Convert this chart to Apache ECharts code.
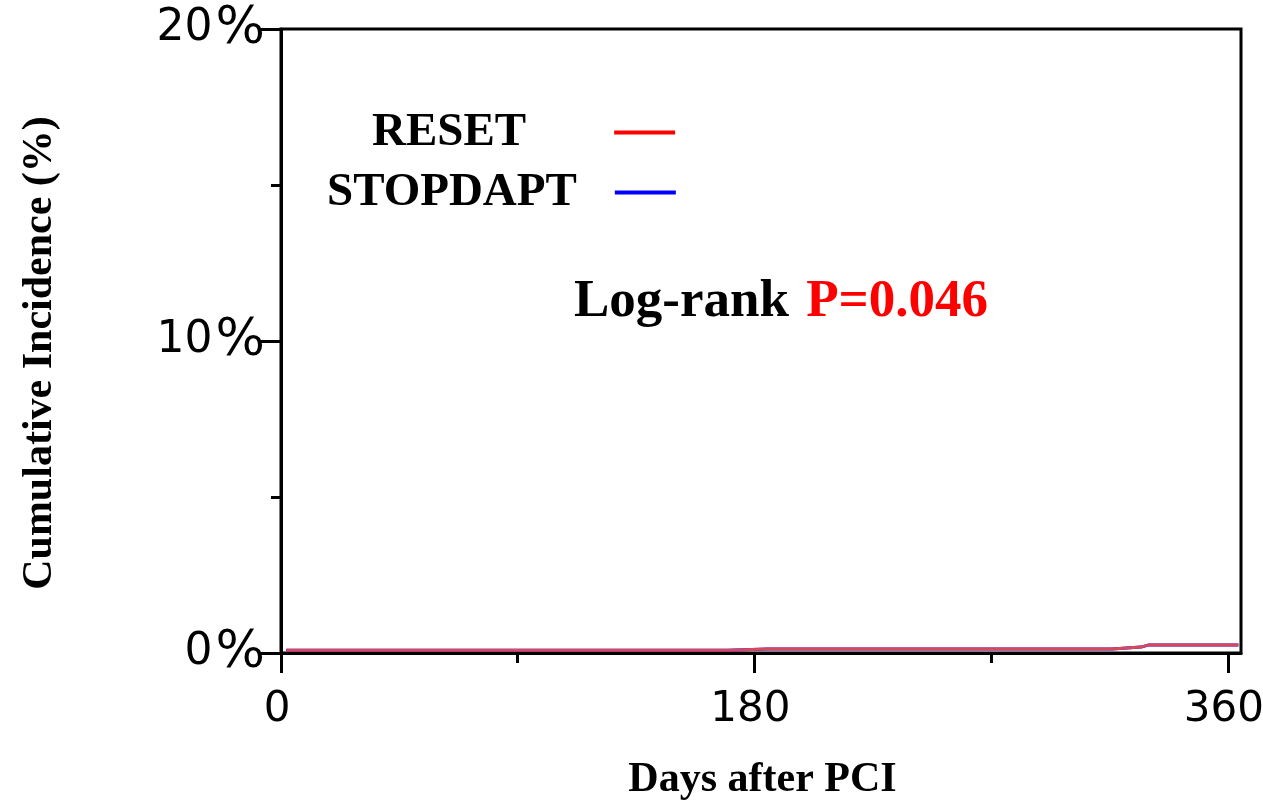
<!DOCTYPE html>
<html lang="en">
<head>
    <meta charset="UTF-8">
    <title>Cumulative Incidence</title>
    <script type="text/javascript" src="https://cdn.jsdelivr.net/npm/echarts@6/dist/echarts.min.js"></script>
    <style>
        html, body { margin: 0; padding: 0; background: #fff; overflow: hidden; }
    </style>
</head>
<body>
    <div id="main" style="width: 1263px; height: 802px;"></div>
    <script type="text/javascript">
        // days after PCI / cumulative incidence (%)
        var resetDays = [2, 170, 185, 316, 316.5, 327, 330, 364];
        var resetPct = [0.09, 0.09, 0.13, 0.13, 0.19, 0.19, 0.26, 0.26];
        // STOPDAPT curve is hidden under the RESET curve in the picture
        var stopDays = [2, 170, 185, 316, 316.5, 327, 330, 364];
        var stopPct = [0.09, 0.09, 0.13, 0.13, 0.19, 0.19, 0.26, 0.26];
        var xTicks = [0, 180, 360];
        var xMinorTicks = [90, 270];

        function pairs(xs, ys) {
            return xs.map(function (x, i) { return [x, ys[i]]; });
        }

        var myChart = echarts.init(document.getElementById('main'));
        var serif = '"Liberation Serif", "Times New Roman", serif';
        var sans = '"DejaVu Sans", sans-serif';

        var option = {
            animation: false,
            backgroundColor: '#fff',
            title: {
                text: '{a|Log-rank }{b|P=0.046}',
                left: 574,
                top: 276,
                padding: 0,
                textStyle: {
                    rich: {
                        a: { fontFamily: serif, fontWeight: 'bold', fontSize: 53, color: '#000' },
                        b: { fontFamily: serif, fontWeight: 'bold', fontSize: 53, color: '#ff0000', padding: [0, 0, 0, 4] }
                    }
                }
            },
            legend: [{
                data: [{ name: 'RESET', itemStyle: { color: '#ff0000' } }],
                left: 372, top: 109, padding: 0,
                align: 'right', icon: 'rect', itemWidth: 61, itemHeight: 4,
                textStyle: { fontFamily: serif, fontWeight: 'bold', fontSize: 47, color: '#000', padding: [0, 83, 0, 0] }
            }, {
                data: [{ name: 'STOPDAPT', itemStyle: { color: '#0000ff' } }],
                left: 327, top: 169, padding: 0,
                align: 'right', icon: 'rect', itemWidth: 61, itemHeight: 4,
                textStyle: { fontFamily: serif, fontWeight: 'bold', fontSize: 47, color: '#000', padding: [0, 33, 0, 0] }
            }],
            grid: {
                left: 281, right: 22, top: 29, bottom: 149,
                outerBoundsMode: 'none',
                show: true, borderColor: '#000', borderWidth: 3
            },
            xAxis: [{
                type: 'value', min: 0, max: 365,
                name: 'Days after PCI', nameLocation: 'middle', nameGap: 106,
                nameTextStyle: { fontFamily: serif, fontWeight: 'bold', fontSize: 42, color: '#000', padding: [0, 0, 0, 3] },
                axisLine: { lineStyle: { color: '#000', width: 3 } },
                axisTick: { length: 20, lineStyle: { color: '#000', width: 3 }, customValues: xTicks },
                axisLabel: { fontFamily: sans, fontSize: 42, color: '#000', margin: 36, customValues: xTicks, padding: [0, 8, 0, 0] },
                splitLine: { show: false }
            }, {
                type: 'value', min: 0, max: 365, position: 'bottom',
                axisLine: { show: false },
                axisTick: { length: 10, lineStyle: { color: '#000', width: 3 }, customValues: xMinorTicks },
                axisLabel: { show: false },
                splitLine: { show: false }
            }],
            yAxis: {
                type: 'value', min: 0, max: 20, interval: 10,
                name: 'Cumulative Incidence (%)', nameLocation: 'middle', nameGap: 220,
                nameTextStyle: { fontFamily: serif, fontWeight: 'bold', fontSize: 42, color: '#000', padding: [0, 24, 0, 0] },
                axisLine: { show: true, lineStyle: { color: '#000', width: 3 } },
                axisTick: { show: true, length: 20, lineStyle: { color: '#000', width: 3 } },
                minorTick: { show: true, splitNumber: 2, length: 10, lineStyle: { color: '#000', width: 3 } },
                axisLabel: {
                    fontFamily: sans, fontSize: 44, color: '#000', margin: 16,
                    formatter: '{value}{p|%}',
                    rich: { p: { fontFamily: sans, fontSize: 52, color: '#000', padding: [0, 0, 0, 3] } }
                },
                splitLine: { show: false }
            },
            series: [{
                name: 'STOPDAPT', type: 'line', showSymbol: false,
                itemStyle: { color: '#0000ff' },
                lineStyle: { color: '#0000ff', width: 3 },
                data: pairs(stopDays, stopPct)
            }, {
                name: 'RESET', type: 'line', showSymbol: false,
                itemStyle: { color: '#ff0000' },
                lineStyle: { color: '#d9475a', width: 3 },
                data: pairs(resetDays, resetPct)
            }]
        };

        myChart.setOption(option);
    </script>
</body>
</html>
